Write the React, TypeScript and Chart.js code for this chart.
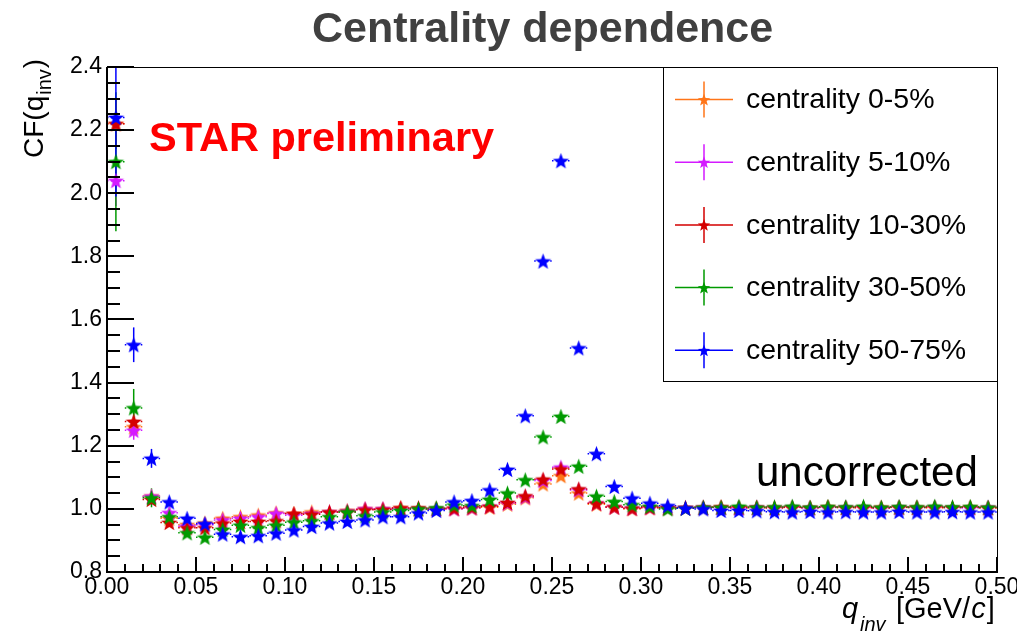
import { useEffect, useRef } from "react";
import { Chart, registerables } from "chart.js";

Chart.register(...registerables);

// ---------------- data ----------------
const qInv = [
  0.005, 0.015, 0.025, 0.035, 0.045, 0.055, 0.065, 0.075, 0.085, 0.095,
  0.105, 0.115, 0.125, 0.135, 0.145, 0.155, 0.165, 0.175, 0.185, 0.195,
  0.205, 0.215, 0.225, 0.235, 0.245, 0.255, 0.265, 0.275, 0.285, 0.295,
  0.305, 0.315, 0.325, 0.335, 0.345, 0.355, 0.365, 0.375, 0.385, 0.395,
  0.405, 0.415, 0.425, 0.435, 0.445, 0.455, 0.465, 0.475, 0.485, 0.495,
];

const seriesLabels = [
  "centrality 0-5%",
  "centrality 5-10%",
  "centrality 10-30%",
  "centrality 30-50%",
  "centrality 50-75%",
];

const cf0to5 = [
  2.22, 1.26, 1.04, 0.97, 0.95, 0.955, 0.97, 0.975, 0.98, 0.987,
  0.985, 0.99, 0.99, 0.995, 1.0, 1.0, 1.003, 1.0, 1.0, 1.0,
  1.002, 1.005, 1.015, 1.035, 1.079, 1.105, 1.05, 1.015, 1.005, 1.0,
  1.003, 1.002, 1.004, 1.003, 1.005, 1.004, 1.003, 1.005, 1.004, 1.003,
  1.005, 1.004, 1.003, 1.005, 1.004, 1.005, 1.003, 1.004, 1.005, 1.004,
];
const cf5to10 = [
  2.04, 1.249, 1.04, 0.988, 0.945, 0.95, 0.965, 0.97, 0.975, 0.985,
  0.98, 0.985, 0.99, 0.993, 1.0, 1.0, 1.0, 1.0, 1.0, 1.0,
  1.003, 1.008, 1.018, 1.038, 1.09, 1.132, 1.06, 1.018, 1.006, 1.002,
  1.004, 1.003, 1.004, 1.005, 1.004, 1.003, 1.005, 1.004, 1.005, 1.003,
  1.004, 1.005, 1.004, 1.003, 1.005, 1.004, 1.005, 1.004, 1.003, 1.005,
];
const cf10to30 = [
  2.22, 1.277, 1.03, 0.957, 0.94, 0.94, 0.955, 0.96, 0.96, 0.962,
  0.985, 0.983, 0.99, 0.99, 0.997, 0.998, 1.003, 1.003, 1.0, 1.002,
  1.005, 1.008, 1.02, 1.041, 1.094, 1.126, 1.063, 1.018, 1.006, 1.002,
  1.005, 1.004, 1.003, 1.005, 1.006, 1.004, 1.005, 1.003, 1.005, 1.004,
  1.006, 1.004, 1.005, 1.003, 1.005, 1.004, 1.005, 1.004, 1.005, 1.003,
];
const cf30to50 = [
  2.1, 1.32, 1.035, 0.975, 0.924, 0.91, 0.935, 0.948, 0.94, 0.948,
  0.958, 0.962, 0.975, 0.99, 0.978, 0.99, 0.995, 1.0, 1.003, 1.012,
  1.01, 1.03, 1.05, 1.092, 1.228, 1.293, 1.135, 1.04, 1.023, 1.013,
  1.008, 1.0, 1.002, 1.005, 1.005, 1.008, 1.005, 1.006, 1.008, 1.005,
  1.007, 1.006, 1.008, 1.005, 1.007, 1.006, 1.008, 1.006, 1.007, 1.005,
];
const cf50to75 = [
  2.24, 1.52, 1.16, 1.022, 0.97, 0.953, 0.92, 0.912, 0.915, 0.923,
  0.933, 0.944, 0.955, 0.96, 0.965, 0.975, 0.975, 0.987, 0.995, 1.022,
  1.026, 1.06, 1.125, 1.295, 1.785, 2.103, 1.51, 1.175, 1.071, 1.034,
  1.018, 1.01, 1.002, 1.0, 0.995, 0.995, 0.994, 0.991, 0.99, 0.992,
  0.99, 0.991, 0.99, 0.99, 0.992, 0.99, 0.99, 0.991, 0.99, 0.99,
];

// vertical (statistical) errors of the first bins; later bins are negligible
const err0to5 = [0.08, 0.03, 0.015, 0.01];
const err5to10 = [0.08, 0.03, 0.015, 0.01];
const err10to30 = [0.08, 0.03, 0.015, 0.01];
const err30to50 = [0.22, 0.06, 0.03, 0.012];
const err50to75 = [0.25, 0.055, 0.03, 0.012];

const binHalfWidth = 0.005;

const xTicks = { min: 0, max: 0.5, step: 0.05, minor: 0.01 };
const yTicks = { min: 0.8, max: 2.4, step: 0.2, minor: 0.05 };

const seriesColors = ["#ff7518", "#d41aff", "#d40000", "#009a00", "#0000ff"];
const seriesValues = [cf0to5, cf5to10, cf10to30, cf30to50, cf50to75];
const seriesErrors = [err0to5, err5to10, err10to30, err30to50, err50to75];

const FONT = "'Liberation Sans', Arial, Helvetica, sans-serif";

function makeStar(color: string, r: number): HTMLCanvasElement {
  const size = Math.ceil(2 * r + 2);
  const c = document.createElement("canvas");
  c.width = size;
  c.height = size;
  const g = c.getContext("2d")!;
  const cx = size / 2;
  const cy = size / 2 + r * 0.1;
  const inner = r * 0.42;
  g.beginPath();
  for (let k = 0; k < 10; k++) {
    const rad = k % 2 === 0 ? r : inner;
    const a = -Math.PI / 2 + (k * Math.PI) / 5;
    const px = cx + rad * Math.cos(a);
    const py = cy + rad * Math.sin(a);
    if (k === 0) g.moveTo(px, py);
    else g.lineTo(px, py);
  }
  g.closePath();
  g.fillStyle = color;
  g.fill();
  return c;
}

function drawStarAt(ctx: CanvasRenderingContext2D, x: number, y: number, r: number, color: string) {
  const inner = r * 0.42;
  ctx.beginPath();
  for (let k = 0; k < 10; k++) {
    const rad = k % 2 === 0 ? r : inner;
    const a = -Math.PI / 2 + (k * Math.PI) / 5;
    const px = x + rad * Math.cos(a);
    const py = y + r * 0.1 + rad * Math.sin(a);
    if (k === 0) ctx.moveTo(px, py);
    else ctx.lineTo(px, py);
  }
  ctx.closePath();
  ctx.fillStyle = color;
  ctx.fill();
}

const rootDecor = {
  id: "rootDecor",
  beforeDatasetsDraw(chart: any) {
    const { ctx, chartArea, scales } = chart;
    const xs = scales.x;
    const ys = scales.y;
    ctx.save();
    ctx.beginPath();
    ctx.rect(chartArea.left, chartArea.top, chartArea.right - chartArea.left, chartArea.bottom - chartArea.top);
    ctx.clip();
    chart.data.datasets.forEach((ds: any) => {
      ctx.strokeStyle = ds.errColor;
      // horizontal bin-width bars, dotted
      ctx.lineWidth = 1.5;
      ctx.setLineDash([1.5, 2.5]);
      ds.data.forEach((p: any) => {
        const y = ys.getPixelForValue(p.y);
        ctx.beginPath();
        ctx.moveTo(xs.getPixelForValue(p.x - binHalfWidth), y);
        ctx.lineTo(xs.getPixelForValue(p.x + binHalfWidth), y);
        ctx.stroke();
      });
      // vertical errors, solid
      ctx.setLineDash([]);
      ctx.lineWidth = 1.5;
      ds.data.forEach((p: any, i: number) => {
        const e = ds.yErr[i];
        if (!e) return;
        const x = xs.getPixelForValue(p.x);
        ctx.beginPath();
        ctx.moveTo(x, ys.getPixelForValue(p.y - e));
        ctx.lineTo(x, ys.getPixelForValue(p.y + e));
        ctx.stroke();
      });
    });
    ctx.restore();
  },
  afterDraw(chart: any) {
    const { ctx, chartArea, scales } = chart;
    const xs = scales.x;
    const ys = scales.y;
    const { left, right, top, bottom } = chartArea;
    ctx.save();

    // frame
    ctx.strokeStyle = "#000";
    ctx.lineWidth = 1;
    ctx.strokeRect(left + 0.5, top + 0.5, right - left, bottom - top);
    ctx.lineWidth = 2;
    ctx.beginPath();
    ctx.moveTo(left, top);
    ctx.lineTo(left, bottom);
    ctx.lineTo(right + 1, bottom);
    ctx.stroke();

    // y ticks (inward)
    for (let v = yTicks.min; v <= yTicks.max + 1e-9; v += yTicks.minor) {
      const y = Math.round(ys.getPixelForValue(v));
      const isMajor = Math.abs(v / yTicks.step - Math.round(v / yTicks.step)) < 1e-6;
      ctx.beginPath();
      ctx.moveTo(left, y);
      ctx.lineTo(left + (isMajor ? 27 : 13), y);
      ctx.stroke();
    }
    // x ticks (inward)
    for (let v = xTicks.min; v <= xTicks.max + 1e-9; v += xTicks.minor) {
      const x = Math.round(xs.getPixelForValue(v));
      const isMajor = Math.abs(v / xTicks.step - Math.round(v / xTicks.step)) < 1e-6;
      ctx.beginPath();
      ctx.moveTo(x, bottom);
      ctx.lineTo(x, bottom - (isMajor ? 15 : 8));
      ctx.stroke();
    }

    // title
    ctx.fillStyle = "#404040";
    ctx.font = `bold 43px ${FONT}`;
    ctx.textBaseline = "alphabetic";
    ctx.textAlign = "left";
    ctx.fillText("Centrality dependence", 312, 42);

    // STAR preliminary
    ctx.fillStyle = "#ff0000";
    ctx.font = `bold 41.5px ${FONT}`;
    ctx.fillText("STAR preliminary", 149, 151);

    // uncorrected
    ctx.fillStyle = "#000";
    ctx.font = `42px ${FONT}`;
    ctx.fillText("uncorrected", 756, 486);

    // y axis title
    ctx.save();
    ctx.translate(43, 158);
    ctx.rotate(-Math.PI / 2);
    ctx.font = `28px ${FONT}`;
    ctx.fillText("CF(q", 0, 0);
    let w = ctx.measureText("CF(q").width;
    ctx.font = `20px ${FONT}`;
    ctx.fillText("inv", w + 1, 8);
    w += ctx.measureText("inv").width + 2;
    ctx.font = `28px ${FONT}`;
    ctx.fillText(")", w, 0);
    ctx.restore();

    // x axis title
    ctx.font = `italic 29px ${FONT}`;
    ctx.fillText("q", 842, 618);
    ctx.font = `italic 20px ${FONT}`;
    ctx.fillText("inv", 860, 631);
    ctx.font = `29px ${FONT}`;
    ctx.fillText("[GeV/", 896, 618);
    let xw = 896 + ctx.measureText("[GeV/").width;
    ctx.font = `italic 29px ${FONT}`;
    ctx.fillText("c", xw + 1, 618);
    xw += ctx.measureText("c").width + 2;
    ctx.font = `29px ${FONT}`;
    ctx.fillText("]", xw, 618);

    // legend box
    const lx0 = 663;
    const ly0 = 67;
    const lx1 = right;
    const ly1 = 381;
    ctx.fillStyle = "#fff";
    ctx.fillRect(lx0, ly0, lx1 - lx0, ly1 - ly0);
    ctx.strokeStyle = "#000";
    ctx.lineWidth = 1;
    ctx.strokeRect(lx0 + 0.5, ly0 + 0.5, lx1 - lx0, ly1 - ly0);
    chart.data.datasets.forEach((ds: any, i: number) => {
      const cy = 99.5 + i * 62.7;
      const cx = 704;
      ctx.strokeStyle = ds.errColor;
      ctx.lineWidth = 1.5;
      ctx.beginPath();
      ctx.moveTo(675, cy);
      ctx.lineTo(733, cy);
      ctx.moveTo(cx, cy - 18);
      ctx.lineTo(cx, cy + 18);
      ctx.stroke();
      drawStarAt(ctx, cx, cy, 6.5, ds.errColor);
      ctx.fillStyle = "#000";
      ctx.font = `28.5px ${FONT}`;
      ctx.textBaseline = "middle";
      ctx.fillText(ds.label, 746, cy + 1);
      ctx.textBaseline = "alphabetic";
    });

    ctx.restore();
  },
};

export default function App() {
  const ref = useRef<HTMLCanvasElement | null>(null);

  useEffect(() => {
    if (!ref.current) return;
    document.body.style.margin = "0";
    const orders = [5, 4, 3, 2, 1];
    const datasets = seriesLabels.map((label, s) => ({
      label,
      data: qInv.map((x, i) => ({ x, y: seriesValues[s][i] })),
      yErr: qInv.map((_, i) => seriesErrors[s][i] || 0),
      errColor: seriesColors[s],
      showLine: false,
      pointStyle: makeStar(seriesColors[s], 8.5),
      pointRadius: 8,
      borderColor: seriesColors[s],
      backgroundColor: seriesColors[s],
      order: orders[s],
    }));
    const chart = new Chart(ref.current, {
      type: "scatter",
      data: { datasets } as any,
      plugins: [rootDecor as any],
      options: {
        animation: false,
        responsive: false,
        maintainAspectRatio: false,
        layout: { padding: { left: 0, right: 20, top: 67, bottom: 0 } },
        plugins: {
          legend: { display: false },
          title: { display: false },
          tooltip: { enabled: false },
        },
        scales: {
          x: {
            type: "linear",
            min: xTicks.min,
            max: xTicks.max,
            border: { display: false },
            grid: { display: false, drawTicks: false },
            ticks: {
              stepSize: xTicks.step,
              autoSkip: false,
              maxRotation: 0,
              padding: 2,
              color: "#000",
              font: { family: FONT, size: 23 },
              callback: (v: any) => Number(v).toFixed(2),
            },
            afterFit: (s: any) => {
              s.height = 61;
              s.paddingLeft = 0;
              s.paddingRight = 0;
            },
          },
          y: {
            type: "linear",
            min: yTicks.min,
            max: yTicks.max,
            border: { display: false },
            grid: { display: false, drawTicks: false },
            ticks: {
              stepSize: yTicks.step,
              autoSkip: false,
              padding: 5,
              color: "#000",
              font: { family: FONT, size: 23 },
              callback: (v: any) => Number(v).toFixed(1),
            },
            afterFit: (s: any) => {
              s.width = 107;
              s.paddingTop = 0;
              s.paddingBottom = 0;
            },
          },
        },
      } as any,
    });
    return () => chart.destroy();
  }, []);

  return (
    <div style={{ position: "fixed", left: 0, top: 0, width: 1017, height: 633, background: "#fff" }}>
      <canvas ref={ref} width={1017} height={633} style={{ display: "block", width: 1017, height: 633 }} />
    </div>
  );
}
